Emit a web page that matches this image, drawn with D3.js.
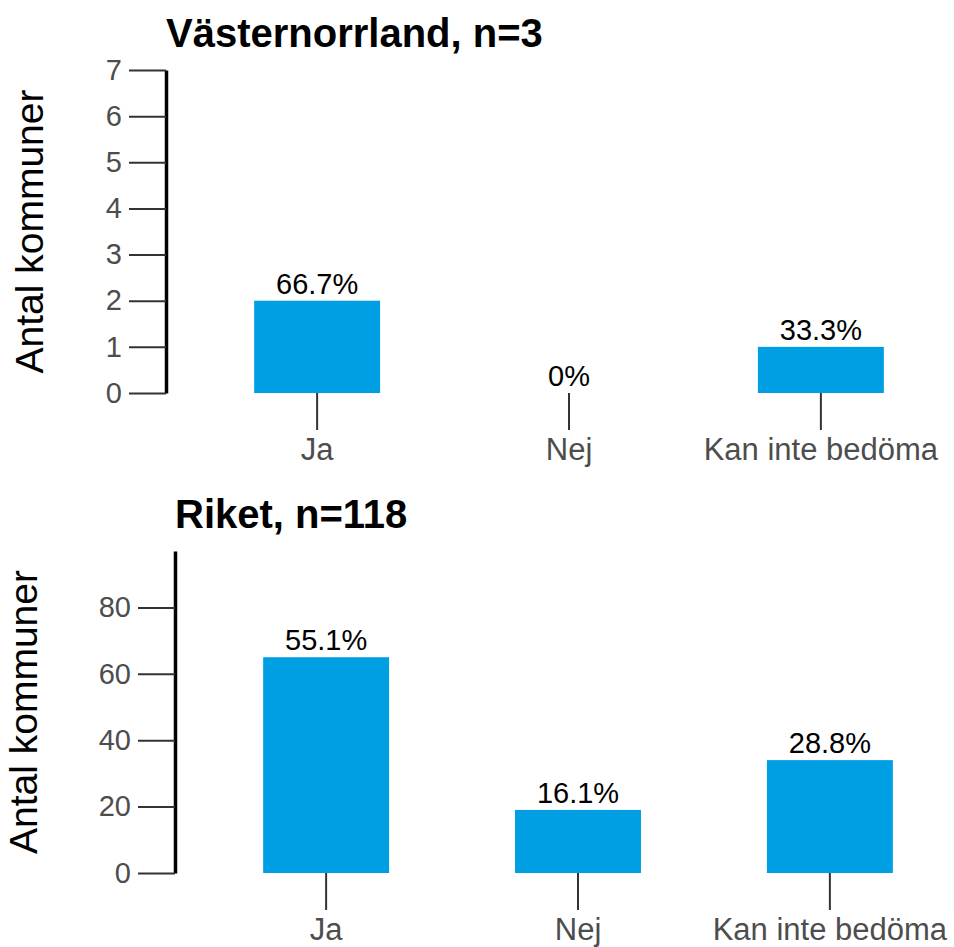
<!DOCTYPE html>
<html>
<head>
<meta charset="utf-8">
<script src="https://cdn.jsdelivr.net/npm/d3@7"></script>
<style>
  body { margin: 0; background: #fff; }
  text { font-family: "Liberation Sans", Arial, sans-serif; }
</style>
</head>
<body>
<div id="chart"></div>
<script>
// Data
const categories = ["Ja", "Nej", "Kan inte bedöma"];
const regionCounts = [2, 0, 1];
const riketCounts = [65, 19, 34];
const regionTicks = [0, 1, 2, 3, 4, 5, 6, 7];
const riketTicks = [0, 20, 40, 60, 80];
const regionMax = 7;
const riketMax = 97;
const titles = ["Västernorrland, n=3", "Riket, n=118"];
const yTitle = "Antal kommuner";

const width = 954, height = 947;

const svg = d3.select("#chart")
    .append("svg")
    .attr("width", width)
    .attr("height", height);

// one panel per data set
const panels = [
    { title: titles[0], counts: regionCounts, ticks: regionTicks, max: regionMax,
      left: 166, top: 70, bottom: 393, titleX: 43 },
    { title: titles[1], counts: riketCounts, ticks: riketTicks, max: riketMax,
      left: 175, top: 551, bottom: 873, titleX: 37 }
];

function pct(v, n) {
    return v === 0 ? "0%" : (100 * v / n).toFixed(1) + "%";
}

panels.forEach(p => {
    const n = d3.sum(p.counts);
    const data = categories.map((c, i) => ({ cat: c, value: p.counts[i] }));

    const x = d3.scaleBand()
        .domain(categories)
        .range([p.left, p.left + 806])
        .paddingInner(0.5)
        .paddingOuter(0.35);

    const y = d3.scaleLinear()
        .domain([0, p.max])
        .range([p.bottom, p.top]);

    // y axis
    const yAxis = svg.append("g")
        .attr("transform", `translate(${p.left},0)`)
        .call(d3.axisLeft(y).tickValues(p.ticks).tickFormat(d3.format("d"))
            .tickSize(37).tickSizeOuter(0).tickPadding(7));
    yAxis.select(".domain").attr("stroke", "#000").attr("stroke-width", 3.5);
    yAxis.selectAll(".tick line").attr("stroke", "#333").attr("stroke-width", 2);
    yAxis.selectAll(".tick text")
        .attr("fill", "#4d4d4d")
        .style("font-size", "29px");

    // x axis (ticks only)
    const xAxis = svg.append("g")
        .attr("transform", `translate(0,${p.bottom})`)
        .call(d3.axisBottom(x).tickSize(37).tickPadding(8));
    xAxis.select(".domain").remove();
    xAxis.selectAll(".tick line").attr("stroke", "#333").attr("stroke-width", 2);
    xAxis.selectAll(".tick text")
        .attr("fill", "#4d4d4d")
        .style("font-size", "31px");

    // bars
    svg.append("g").selectAll("rect")
        .data(data)
        .enter().append("rect")
        .attr("x", d => x(d.cat))
        .attr("y", d => y(d.value))
        .attr("width", x.bandwidth())
        .attr("height", d => y(0) - y(d.value))
        .attr("fill", "#009fe3");

    // percent labels
    svg.append("g").selectAll("text")
        .data(data)
        .enter().append("text")
        .attr("x", d => x(d.cat) + x.bandwidth() / 2)
        .attr("y", d => y(d.value) - 7)
        .attr("text-anchor", "middle")
        .attr("fill", "#000")
        .style("font-size", "29px")
        .text(d => pct(d.value, n));

    // panel title
    svg.append("text")
        .attr("x", p.left)
        .attr("y", p.top - 23)
        .attr("fill", "#000")
        .style("font-size", "40px")
        .style("font-weight", "bold")
        .text(p.title);

    // y axis title
    svg.append("text")
        .attr("transform", `translate(${p.titleX},${(p.top + p.bottom) / 2}) rotate(-90)`)
        .attr("text-anchor", "middle")
        .attr("fill", "#000")
        .style("font-size", "39px")
        .text(yTitle);
});
</script>
</body>
</html>
